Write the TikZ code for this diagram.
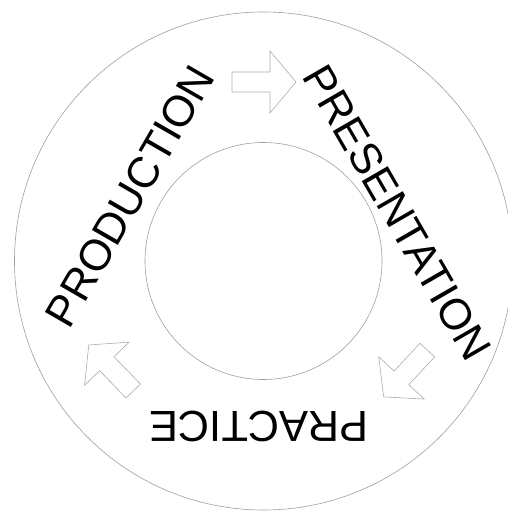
\documentclass[tikz,border=0pt]{standalone}
\usepackage{fontspec}
\setmainfont{Liberation Sans}

\begin{document}
\begin{tikzpicture}[
    x=1pt, y=1pt,
    ring/.style={draw=gray!75, line width=0.6pt},
    stage/.style={font=\fontsize{43.5}{50}\selectfont, inner sep=0pt},
    turn/.style={draw=gray!65, line width=0.6pt, line join=miter}
  ]
  \useasboundingbox (0,0) rectangle (507,511);

  % ══ RINGS ══════════════════════════════════════════════════════════════
  \draw[ring] (263.5,250) circle (249pt);
  \draw[ring] (263.5,250) circle (118.5pt);

  % ══ STAGE NAMES ════════════════════════════════════════════════════════
  \node[stage, rotate=60] (production) at (130,315) {PRODUCTION};
  \node[stage, rotate=-60] (presentation) at (397.5,298.7) {PRESENTATION};
  \node[stage, rotate=180] (practice) at (259,85) {PRACTICE};

  % ══ ARROWS ═════════════════════════════════════════════════════════════
  % production to presentation
  \begin{scope}[shift={(264,429)}]
    \draw[turn] (-32,-10) -- (6,-10) -- (6,-31) -- (32,0)
      -- (6,31) -- (6,10) -- (-32,10) -- cycle;
  \end{scope}

  % presentation to practice
  \begin{scope}[shift={(405.5,137.5)}, rotate=227]
    \draw[turn] (-32,-10) -- (6,-10) -- (6,-31) -- (32,0)
      -- (6,31) -- (6,10) -- (-32,10) -- cycle;
  \end{scope}

  % practice to production
  \begin{scope}[shift={(111,143)}, rotate=134]
    \draw[turn] (-32,-10) -- (6,-10) -- (6,-31) -- (32,0)
      -- (6,31) -- (6,10) -- (-32,10) -- cycle;
  \end{scope}

\end{tikzpicture}
\end{document}
